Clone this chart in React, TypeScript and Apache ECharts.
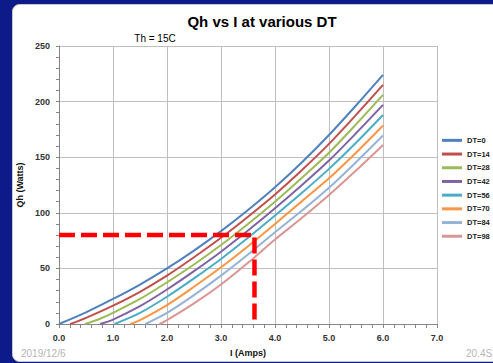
import React, { useEffect, useRef } from "react";
import * as echarts from "echarts";

// ---------- data ----------
const seriesNames = ["DT=0", "DT=14", "DT=28", "DT=42", "DT=56", "DT=70", "DT=84", "DT=98"];
const seriesColors = ["#4F81BD", "#C0504D", "#9BBB59", "#8064A2", "#4BACC6", "#F79646", "#95B3D7", "#D99694"];

const dt0 = [[0, 0], [0.5, 10.5], [1, 22.5], [1.5, 35.5], [2, 50], [2.5, 66], [3, 83.5], [3.5, 102.5], [4, 123], [4.5, 145.5], [5, 170], [5.5, 196.5], [6, 224]];
const dt14 = [[0.21, 0], [0.5, 5.5], [1, 16.5], [1.5, 29], [2, 43.5], [2.5, 60], [3, 77.5], [3.5, 96.5], [4, 116.5], [4.5, 138.5], [5, 162], [5.5, 188], [6, 215]];
const dt28 = [[0.48, 0], [0.75, 4.5], [1, 10], [1.5, 22.5], [2, 37.5], [2.5, 53.5], [3, 71], [3.5, 90], [4, 110], [4.5, 131.5], [5, 154], [5.5, 179.5], [6, 206]];
const dt42 = [[0.76, 0], [1, 4], [1.5, 16], [2, 31], [2.5, 47.5], [3, 65], [3.5, 84], [4, 104], [4.5, 125], [5, 147], [5.5, 171.5], [6, 197]];
const dt56 = [[1.03, 0], [1.5, 10], [2, 24.5], [2.5, 41], [3, 58.5], [3.5, 77.5], [4, 97.5], [4.5, 118], [5, 139.5], [5.5, 163], [6, 188]];
const dt70 = [[1.32, 0], [1.5, 3.5], [2, 17], [2.5, 33.5], [3, 51], [3.5, 70], [4, 90], [4.5, 110.5], [5, 131], [5.5, 154], [6, 178.5]];
const dt84 = [[1.6, 0], [2, 10], [2.5, 26], [3, 43.5], [3.5, 62.5], [4, 82.5], [4.5, 102], [5, 122.5], [5.5, 145.5], [6, 169.5]];
const dt98 = [[1.86, 0], [2, 3.5], [2.5, 18.5], [3, 35.5], [3.5, 55], [4, 76], [4.5, 95.5], [5, 116], [5.5, 138], [6, 161]];
const seriesData = [dt0, dt14, dt28, dt42, dt56, dt70, dt84, dt98];

// operating point marker (red dashed)
const operatingPoint = [[0, 80], [3.62, 80], [3.62, 0]];

const titleText = "Qh vs I at various DT";
const subtitleText = "Th = 15C";
const xAxisName = "I (Amps)";
const yAxisName = "Qh (Watts)";
const dateText = "2019/12/6";
const cornerText = "20.4S";

const FONT = "'Liberation Sans', Arial, sans-serif";

export default function App() {
  const ref = useRef<HTMLDivElement>(null);

  useEffect(() => {
    if (!ref.current) return;
    const chart = echarts.init(ref.current, undefined, { renderer: "svg" });

    const lines = seriesData.map((d, i) => ({
      name: seriesNames[i],
      type: "line",
      data: d,
      showSymbol: false,
      symbol: "none",
      smooth: 0.3,
      lineStyle: { color: seriesColors[i], width: 2 },
      itemStyle: { color: seriesColors[i] },
      z: 2,
    }));

    chart.setOption({
      animation: false,
      backgroundColor: "#0D1B8A",
      textStyle: { fontFamily: FONT },
      grid: { left: 59, right: 56, top: 46, bottom: 39 },
      legend: {
        data: seriesNames,
        orient: "vertical",
        left: 442,
        top: 133.5,
        padding: 0,
        icon: "rect",
        itemWidth: 20,
        itemHeight: 3,
        itemGap: 0,
        textStyle: { fontFamily: FONT, fontSize: 7.5, fontWeight: "bold", color: "#222", lineHeight: 13.7 },
      },
      xAxis: {
        type: "value",
        min: 0,
        max: 7,
        interval: 1,
        name: xAxisName,
        nameLocation: "middle",
        nameGap: 24,
        nameTextStyle: { fontFamily: FONT, fontSize: 9, fontWeight: "bold", color: "#111" },
        axisLine: { show: true, onZero: false, lineStyle: { color: "#868686", width: 1 } },
        axisTick: { show: true, length: 4, lineStyle: { color: "#868686" } },
        minorTick: { show: true, splitNumber: 5, length: 4, lineStyle: { color: "#868686" } },
        splitLine: { show: true, lineStyle: { color: "#BFBFBF", width: 1 } },
        axisLabel: {
          margin: 9,
          fontFamily: FONT,
          fontSize: 9,
          fontWeight: "bold",
          color: "#333",
          formatter: (v: number) => v.toFixed(1),
        },
      },
      yAxis: {
        type: "value",
        min: 0,
        max: 250,
        interval: 50,
        name: yAxisName,
        nameLocation: "middle",
        nameGap: 30,
        nameRotate: 90,
        nameTextStyle: { fontFamily: FONT, fontSize: 9, fontWeight: "bold", color: "#111" },
        axisLine: { show: true, lineStyle: { color: "#868686", width: 1 } },
        axisTick: { show: true, length: 3, lineStyle: { color: "#868686" } },
        minorTick: { show: true, splitNumber: 5, length: 3, lineStyle: { color: "#868686" } },
        splitLine: { show: true, lineStyle: { color: "#BFBFBF", width: 1 } },
        axisLabel: { margin: 9, fontFamily: FONT, fontSize: 9, fontWeight: "bold", color: "#333" },
      },
      series: [
        ...lines,
        {
          name: "operating",
          type: "line",
          data: operatingPoint,
          showSymbol: false,
          symbol: "none",
          lineStyle: { color: "#FF0000", width: 4.5, type: [16, 6] },
          z: 5,
        },
      ],
      graphic: [
        {
          type: "rect",
          z: -100,
          shape: { x: 12.5, y: 4.5, width: 500, height: 357, r: 7 },
          style: { fill: "#FFFFFF", stroke: "#C8C8C8", lineWidth: 1 },
        },
        {
          type: "text",
          x: 262,
          y: 21,
          style: {
            text: titleText,
            fontFamily: FONT,
            fontSize: 15,
            fontWeight: "bold",
            fill: "#000",
            align: "center",
            verticalAlign: "middle",
          },
        },
        {
          type: "text",
          x: 155,
          y: 38,
          style: {
            text: subtitleText,
            fontFamily: FONT,
            fontSize: 10,
            fill: "#000",
            align: "center",
            verticalAlign: "middle",
          },
        },
        {
          type: "text",
          x: 21,
          y: 353,
          style: {
            text: dateText,
            fontFamily: FONT,
            fontSize: 10,
            fill: "#B4B4B4",
            align: "left",
            verticalAlign: "middle",
          },
        },
        {
          type: "text",
          x: 466,
          y: 353,
          style: {
            text: cornerText,
            fontFamily: FONT,
            fontSize: 10,
            fill: "#B4B4B4",
            align: "left",
            verticalAlign: "middle",
          },
        },
      ],
    });

    return () => chart.dispose();
  }, []);

  return (
    <div
      ref={ref}
      style={{ position: "absolute", left: 0, top: 0, width: 493, height: 363, overflow: "hidden" }}
    />
  );
}
